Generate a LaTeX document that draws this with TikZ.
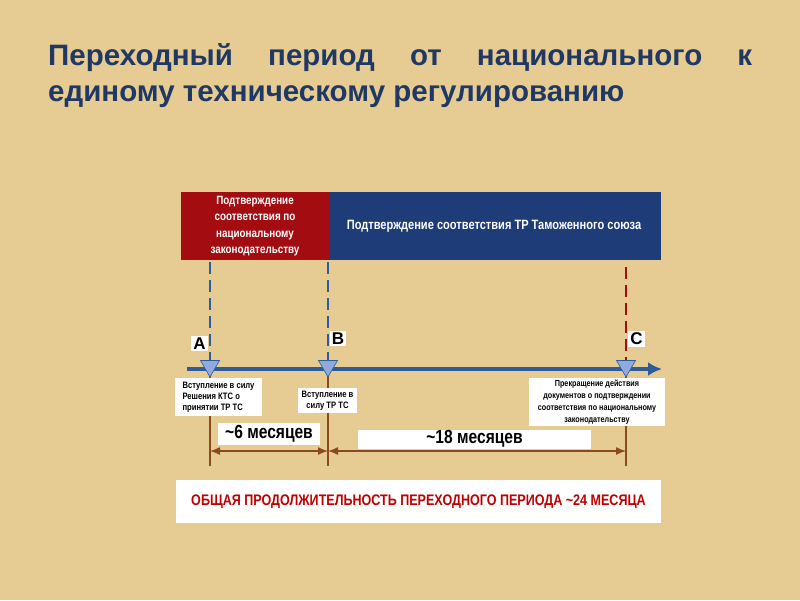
\documentclass[tikz,border=0pt]{standalone}
\usepackage{fontspec}
\setmainfont{Liberation Sans}
\newfontfamily\narrowf[FakeStretch=0.82]{Liberation Sans}
\usetikzlibrary{arrows.meta,shapes.geometric}
\definecolor{bg}{HTML}{E6CC93}
\definecolor{ttl}{HTML}{1F3864}
\definecolor{rbox}{HTML}{A30D12}
\definecolor{bbox}{HTML}{1E3C78}
\definecolor{ax}{HTML}{2E5C9A}
\definecolor{tri}{HTML}{8FAADC}
\definecolor{brn}{HTML}{8B4A1E}
\definecolor{rtxt}{HTML}{C00000}
\tikzset{
 wbox/.style={fill=white,inner sep=1pt,align=center,font=\narrowf\bfseries\fontsize{9.3}{11}\selectfont},
 letter/.style={fill=white,inner sep=2pt,font=\bfseries\fontsize{17}{17}\selectfont},
 vdash/.style={dash pattern=on 12pt off 6pt,line width=1.5pt},
 mark0/.style={regular polygon,regular polygon sides=3,shape border rotate=180,fill=tri,draw=ax,line width=0.6pt,minimum size=22pt,inner sep=0pt},
 brline/.style={brn,line width=1.3pt},
 ttlfont/.style={text=ttl,font=\bfseries\fontsize{29.5}{29.5}\selectfont},
}
\begin{document}
\begin{tikzpicture}[x=1pt,y=-1pt]
\fill[bg] (0,0) rectangle (800,600);
\useasboundingbox (0,0) rectangle (800,600);
\node[anchor=west,text width=704pt,inner sep=0pt,align=left,ttlfont] (title1) at (48,58)
 {Переходный\hfill период\hfill от\hfill национального\hfill к};
\node[anchor=west,inner sep=0pt,ttlfont] (title2) at (48,97) {единому техническому регулированию};
\fill[bbox] (329,192) rectangle (661,260);
\fill[rbox] (181,192) rectangle (329,260);
\node[text=white,align=center,font=\narrowf\bfseries\fontsize{12}{16.5}\selectfont] (nat) at (255,226) {Подтверждение\\соответствия по\\национальному\\законодательству};
\node[text=white,font=\narrowf\bfseries\fontsize{13.5}{15}\selectfont] (tc) at (494,226) {Подтверждение соответствия ТР Таможенного союза};
\coordinate (a0) at (210,262); \coordinate (b0) at (328,262); \coordinate (c0) at (626,267);
\coordinate (a1) at (210,369); \coordinate (b1) at (328,369); \coordinate (c1) at (626,369);
\coordinate (s) at (187,369); \coordinate (e) at (662,369);
\draw[vdash,ax] (a0) -- (a1);
\draw[vdash,ax] (b0) -- (b1);
\draw[vdash,rbox] (c0) -- (c1);
\node[letter] (A) at (199.5,343.5) {A};
\node[letter] (B) at (338,338.5) {B};
\node[letter] (C) at (636.5,339) {C};
\coordinate (a2) at (210,466); \coordinate (b2) at (328,466); \coordinate (c2) at (626,466);
\draw[brline] (a1) -- (a2); \draw[brline] (b1) -- (b2); \draw[brline] (c1) -- (c2);
\draw[ax,line width=4pt,-{Latex[length=14pt,width=14pt]}] (s) -- (e);
\node[mark0] (ta) at (210,366) {};
\node[mark0] (tb) at (328,366) {};
\node[mark0] (tc2) at (626,366) {};
\node[wbox,align=left,minimum width=87pt,minimum height=38pt] (ka) at (218.5,397) {Вступление в силу\\Решения КТС о\\принятии ТР ТС};
\node[wbox,minimum width=59pt,minimum height=25pt] (kb) at (327.5,400.5) {Вступление в\\силу ТР ТС};
\node[wbox,minimum width=136pt,minimum height=48pt,font=\narrowf\bfseries\fontsize{8.8}{12}\selectfont] (kc) at (597,402) {Прекращение действия\\документов о подтверждении\\соответствия по национальному\\законодательству};
\node[fill=white,minimum width=102pt,minimum height=22pt,inner sep=0pt,font=\narrowf\bfseries\fontsize{19}{19}\selectfont] (m6) at (269,434) {\textasciitilde6 месяцев};
\node[fill=white,minimum width=233pt,minimum height=19pt,inner sep=0pt,font=\narrowf\bfseries\fontsize{19}{19}\selectfont] (m18) at (474.5,439) {\textasciitilde18 месяцев};
\coordinate (d1) at (210,451); \coordinate (d2) at (328,451); \coordinate (d3) at (626,451);
\draw[brline,{Latex[length=10pt,width=8pt]}-{Latex[length=10pt,width=8pt]}] (d1) -- (d2);
\draw[brline,{Latex[length=10pt,width=8pt]}-{Latex[length=10pt,width=8pt]}] (d2) -- (d3);
\node[fill=white,minimum width=485pt,minimum height=43pt,inner sep=0pt,text=rtxt,font=\narrowf\bfseries\fontsize{15.3}{16}\selectfont] (tot) at (418.5,501.5) {ОБЩАЯ ПРОДОЛЖИТЕЛЬНОСТЬ ПЕРЕХОДНОГО ПЕРИОДА \textasciitilde24 МЕСЯЦА};
\end{tikzpicture}
\end{document}
